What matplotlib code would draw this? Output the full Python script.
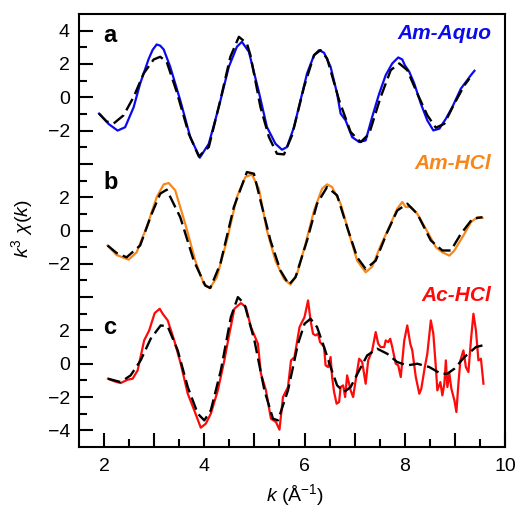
import matplotlib
matplotlib.use('Agg')
import matplotlib.pyplot as plt

plt.rcParams['font.family'] = 'Liberation Sans'
plt.rcParams['mathtext.fontset'] = 'custom'
plt.rcParams['mathtext.rm'] = 'Liberation Sans'
plt.rcParams['mathtext.it'] = 'Liberation Sans:italic'
plt.rcParams['mathtext.bf'] = 'Liberation Sans:bold'

# panel a - Am-Aquo
k_a = [1.90, 2.09, 2.27, 2.42, 2.59, 2.72, 2.89, 2.97, 3.05, 3.12, 3.19, 3.32, 3.52, 3.72, 3.91, 4.09,
       4.29, 4.49, 4.65, 4.75, 4.89, 5.09, 5.25, 5.42, 5.55, 5.65, 5.79, 5.92, 6.05, 6.19,
       6.29, 6.39, 6.52, 6.65, 6.72, 6.82, 6.95, 7.09, 7.22, 7.35, 7.49, 7.62, 7.75, 7.87,
       7.95, 8.00, 8.09, 8.19, 8.32, 8.45, 8.57, 8.69, 8.82, 8.95, 9.12, 9.22, 9.32, 9.39]
chi_a = [-0.98, -1.60, -2.00, -1.80, -0.60, 0.82, 2.30, 2.85, 3.17, 3.10, 2.87, 1.83, -0.18, -2.39, -3.63, -2.79,
         -0.58, 1.83, 3.03, 3.33, 2.73, 0.30, -1.79, -2.79, -3.15, -2.99, -1.79, -0.18, 1.43, 2.53,
         2.83, 2.67, 1.83, 0.22, -0.98, -1.39, -2.39, -2.69, -2.59, -1.18, 0.22, 1.33, 2.03, 2.39,
         2.27, 1.93, 1.53, 0.82, -0.38, -1.39, -1.99, -1.89, -1.29, -0.58, 0.52, 0.92, 1.33, 1.59]
kfit_a = [1.90, 2.05, 2.19, 2.39, 2.59, 2.79, 2.99, 3.12, 3.25, 3.45, 3.69, 3.89, 4.09, 4.32,
          4.52, 4.69, 4.85, 4.92, 5.12, 5.29, 5.45, 5.59, 5.75, 5.99, 6.19, 6.32, 6.45, 6.69,
          6.92, 7.12, 7.29, 7.52, 7.72, 7.89, 8.05, 8.25, 8.45, 8.62, 8.79, 8.99, 9.19, 9.29]
fit_a = [-0.98, -1.45, -1.58, -1.08, 0.02, 1.43, 2.27, 2.43, 2.13, 0.32, -2.19, -3.55, -2.99, -0.18,
         2.43, 3.63, 3.23, 2.53, -0.58, -2.39, -3.39, -3.43, -2.29, 0.62, 2.53, 2.83, 2.33, -0.18,
         -2.09, -2.69, -2.19, 0.02, 1.63, 2.03, 1.63, 0.22, -1.08, -1.83, -1.59, -0.38, 0.72, 1.12]

# panel b - Am-HCl
k_b = [2.07, 2.25, 2.49, 2.65, 2.85, 3.05, 3.19, 3.29, 3.42, 3.62, 3.82, 3.99, 4.11, 4.25,
       4.45, 4.65, 4.82, 4.95, 5.09, 5.25, 5.42, 5.59, 5.72, 5.85, 6.02, 6.19, 6.35, 6.45,
       6.55, 6.72, 6.89, 7.05, 7.22, 7.35, 7.52, 7.69, 7.85, 7.95, 8.02, 8.12, 8.25, 8.42,
       8.62, 8.75, 8.89, 8.99, 9.05, 9.19, 9.32, 9.45, 9.55]
chi_b = [-0.90, -1.47, -1.75, -1.31, 0.20, 2.00, 2.77, 2.85, 2.41, 0.40, -1.81, -3.21, -3.47, -2.81,
         -0.60, 2.00, 3.21, 3.37, 2.50, 0.00, -1.81, -2.91, -3.25, -2.61, -0.80, 1.20, 2.51, 2.77,
         2.61, 1.61, -0.20, -1.81, -2.51, -2.17, -0.90, 0.20, 1.31, 1.71, 1.41, 1.41, 1.00, 0.10,
         -1.00, -1.31, -1.51, -1.20, -0.90, -0.20, 0.50, 0.80, 0.76]
kfit_b = [2.07, 2.25, 2.45, 2.72, 2.95, 3.12, 3.25, 3.52, 3.79, 4.02, 4.12, 4.32, 4.59, 4.85,
          4.99, 5.12, 5.32, 5.52, 5.69, 5.82, 6.05, 6.25, 6.45, 6.65, 6.85, 7.05, 7.22, 7.42,
          7.65, 7.85, 8.05, 8.25, 8.52, 8.75, 8.92, 9.12, 9.35, 9.55]
fit_b = [-0.90, -1.35, -1.61, -0.90, 1.00, 2.21, 2.45, 0.80, -1.81, -3.31, -3.45, -2.00, 1.41, 3.51,
         3.41, 1.81, -0.60, -2.41, -3.25, -2.81, -0.60, 1.61, 2.61, 2.11, 0.20, -1.61, -2.31, -1.81,
         -0.10, 1.20, 1.61, 1.00, -0.60, -1.20, -1.20, -0.20, 0.70, 0.80]

# panel c - Ac-HCl
k_c = [2.08, 2.20, 2.33, 2.47, 2.57, 2.67, 2.80, 2.90, 3.01, 3.11, 3.17, 3.27, 3.40, 3.53,
       3.67, 3.80, 3.93, 4.03, 4.13, 4.27, 4.40, 4.50, 4.60, 4.73, 4.83, 4.93, 5.07, 5.13,
       5.23, 5.33, 5.43, 5.50, 5.57, 5.67, 5.73, 5.80, 5.90, 6.00, 6.07, 6.12, 6.17, 6.22,
       6.27, 6.31, 6.39, 6.42, 6.47, 6.52, 6.55, 6.59, 6.64, 6.69, 6.72, 6.77, 6.81, 6.85,
       6.92, 6.97, 7.02, 7.09, 7.15, 7.22, 7.27, 7.35, 7.42, 7.47, 7.52, 7.59, 7.62, 7.67,
       7.71, 7.75, 7.82, 7.87, 7.92, 7.99, 8.05, 8.11, 8.15, 8.22, 8.29, 8.33, 8.40, 8.45,
       8.52, 8.57, 8.62, 8.65, 8.71, 8.75, 8.79, 8.82, 8.85, 8.89, 8.93, 8.99, 9.03, 9.07,
       9.11, 9.17, 9.22, 9.27, 9.32, 9.37, 9.42, 9.47, 9.52, 9.57]
chi_c = [-0.90, -1.05, -1.16, -0.96, -0.90, -0.40, 1.40, 2.00, 3.04, 3.30, 3.00, 2.60, 1.40, 0.00,
         -1.80, -2.80, -3.84, -3.60, -3.00, -1.60, 0.20, 1.80, 3.30, 3.64, 3.40, 2.20, 1.20, -0.60,
         -1.60, -3.30, -3.50, -3.96, -2.00, -1.40, 0.20, 0.40, 2.20, 2.80, 3.80, 2.60, 1.80, 1.70,
         1.80, 1.30, 1.00, -0.10, -0.20, 0.40, -0.80, -1.70, -2.40, -2.30, -1.40, -1.30, -2.00, -0.70,
         -1.60, -2.00, -1.00, 0.30, 0.10, -1.20, 0.20, 0.80, 1.90, 1.20, 1.00, 1.00, 1.40, 1.30,
         1.50, 1.00, 0.00, -0.10, -0.80, 1.40, 2.30, 1.20, 0.80, -0.80, -1.80, -1.50, -0.20, 0.60,
         2.60, 1.80, -0.20, -1.60, -1.10, -1.90, -1.20, 0.20, -1.40, -0.60, -1.50, -2.20, -2.90, -1.20,
         0.20, 0.80, -0.20, -0.50, 1.40, 3.00, 2.00, 0.20, 0.30, -1.20]
kfit_c = [2.08, 2.33, 2.53, 2.73, 2.93, 3.13, 3.27, 3.47, 3.67, 3.87, 4.00, 4.13, 4.33, 4.53,
          4.67, 4.80, 5.00, 5.20, 5.37, 5.47, 5.67, 5.87, 6.00, 6.12, 6.25, 6.39, 6.52, 6.65,
          6.79, 6.92, 7.09, 7.25, 7.45, 7.65, 7.85, 8.05, 8.25, 8.49, 8.72, 8.85, 8.99, 9.19,
          9.42, 9.55]
fit_c = [-0.90, -1.10, -0.70, 0.20, 1.50, 2.30, 2.24, 0.80, -1.40, -3.00, -3.40, -2.80, -0.40, 2.80,
         4.00, 3.60, 1.40, -1.60, -3.30, -3.40, -1.60, 1.20, 2.40, 2.70, 2.20, 1.00, -0.20, -1.30,
         -1.70, -1.40, -0.40, 0.50, 0.90, 0.60, 0.10, -0.10, 0.00, -0.20, -0.60, -0.60, -0.30, 0.40,
         1.00, 1.10]

names = ['Am-Aquo', 'Am-HCl', 'Ac-HCl']
letters = ['a', 'b', 'c']
colors = ['#0a0aee', '#f7871a', '#ff0a0a']
offsets = [16, 8, 0]

fig = plt.figure(figsize=(5.18, 5.08), dpi=100)
ax = fig.add_axes([79/518, 61/508, 426/518, 433/508])

panels = [(k_a, chi_a, kfit_a, fit_a), (k_b, chi_b, kfit_b, fit_b), (k_c, chi_c, kfit_c, fit_c)]
label_y = [19.8, 12.05, 4.1]
letter_y = [19.7, 10.9, 2.2]
for i in range(3):
    kd, yd, kf, yf = panels[i]
    off = offsets[i]
    ax.plot(kd, [v + off for v in yd], color=colors[i], lw=1.6)
    ax.plot(kf, [v + off for v in yf], color='black', lw=1.7, dashes=(5.5, 2.3))
    ax.text(9.72, label_y[i], names[i], color=colors[i], fontsize=15, fontweight='bold',
            fontstyle='italic', ha='right', va='center')
    ax.text(1.98, letter_y[i], letters[i], fontsize=17, fontweight='bold', ha='left', va='center')

ax.set_xlim(1.5, 10)
ax.set_ylim(-5, 21)

# ticks
ax.set_xticks([2, 3, 4, 5, 6, 7, 8, 9, 10], ['2', '', '4', '', '6', '', '8', '', '10'])
ax.set_xticks([2.5, 3.5, 4.5, 5.5, 6.5, 7.5, 8.5, 9.5], minor=True)
ytk = list(range(-4, 21, 2))
ylab = ['\u22124', '\u22122', '0', '2', '', '\u22122', '0', '2', '', '\u22122', '0', '2', '4']
ax.set_yticks(ytk, ylab)
ax.set_yticks(list(range(-3, 20, 2)), minor=True)
ax.tick_params(which='major', direction='in', length=10, width=1.5, labelsize=14)
ax.tick_params(which='minor', direction='in', length=5.5, width=1.5)
ax.tick_params(axis='x', pad=8)
ax.tick_params(axis='y', pad=6.5)
for s in ax.spines.values():
    s.set_linewidth(1.5)

fig.text(295/518, 13/508, r'$k$ ($\mathrm{\AA}^{-1}$)', fontsize=14, ha='center', va='center')
fig.text(22/518, 0.549, r'$k^3\ \chi(k)$', fontsize=14, ha='center', va='center', rotation=90)

fig.savefig('out.png', dpi=100)
